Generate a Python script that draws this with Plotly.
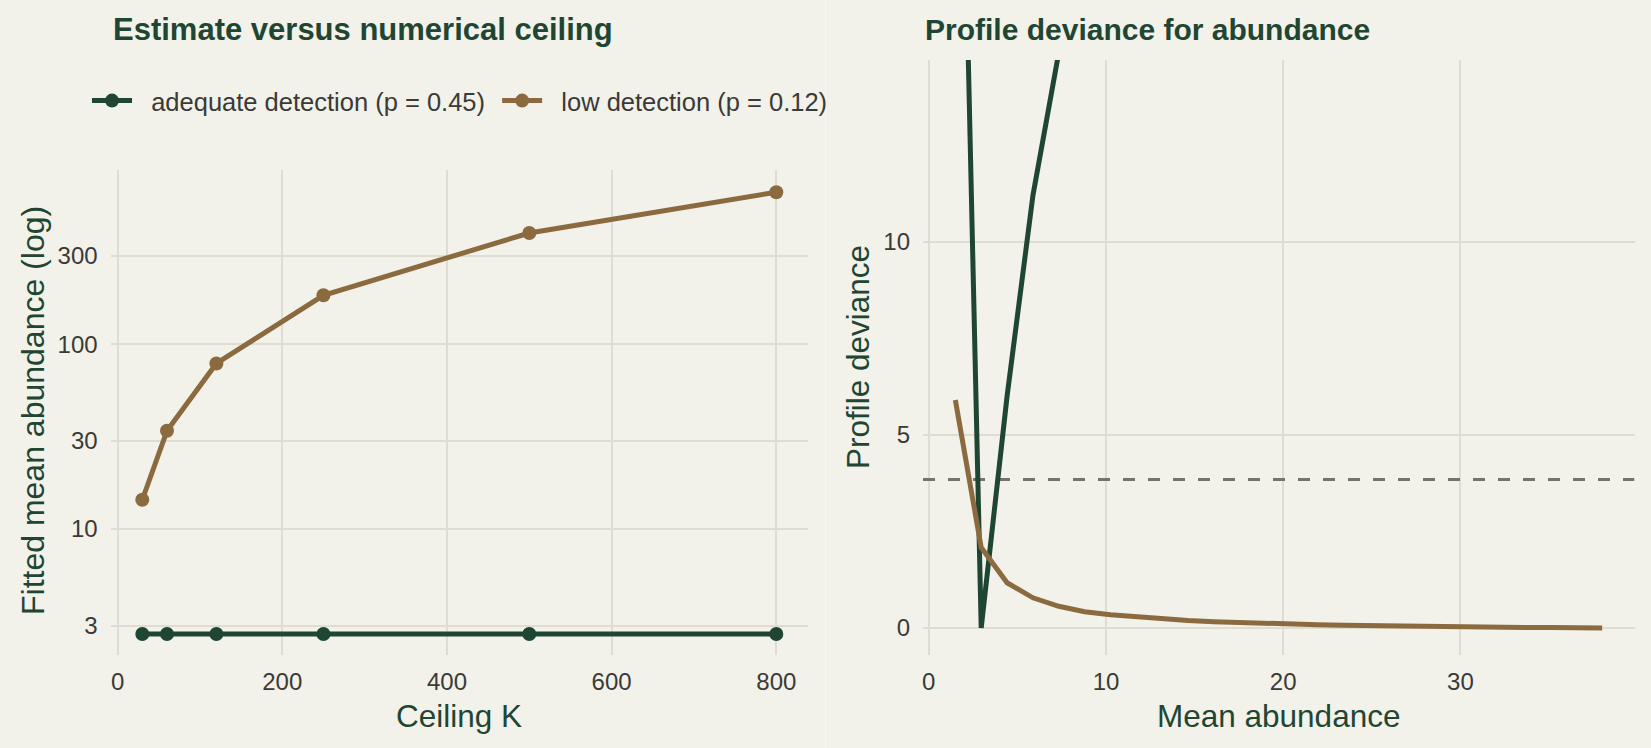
import plotly.graph_objects as go

W, H = 1651, 748

# ---------------- data ----------------
ceiling_K = [30, 60, 120, 250, 500, 800]
est_adequate = [2.70, 2.70, 2.70, 2.70, 2.70, 2.70]
est_low = [14.4, 34.0, 78.7, 184.0, 400.0, 665.0]

lam_grid = [1.50, 2.96, 4.42, 5.88, 7.34, 8.80, 10.26, 11.72, 13.18, 14.64,
            16.10, 17.56, 19.02, 20.48, 21.94, 23.40, 24.86, 26.32, 27.78,
            29.24, 30.70, 32.16, 33.62, 35.08, 36.54, 38.00]
dev_low = [5.90, 2.08, 1.17, 0.78, 0.56, 0.42, 0.34, 0.28, 0.23, 0.19,
           0.16, 0.135, 0.115, 0.100, 0.085, 0.072, 0.060, 0.050, 0.042,
           0.034, 0.027, 0.020, 0.014, 0.009, 0.004, 0.0]
lam_grid_adequate = [1.50, 2.96, 4.42, 5.88, 7.34]
dev_adequate = [29.5, 0.0, 6.0, 11.2, 14.9]
chisq_cut = 3.84

series_names = ["adequate detection (p = 0.45)", "low detection (p = 0.12)"]

GREEN = "#1F4632"
BROWN = "#8C6A3F"
BG = "#F2F1EA"
GRID = "#DFDCD0"
TICK = "#3A3A36"
FONT = "Liberation Sans, Arial, sans-serif"
NB = "\u00a0"

fig = go.Figure()

fig.add_trace(go.Scatter(x=ceiling_K, y=est_adequate, mode="lines+markers",
                         name=NB * 2 + series_names[0] + NB,
                         line=dict(color=GREEN, width=5),
                         marker=dict(color=GREEN, size=14),
                         xaxis="x", yaxis="y"))
fig.add_trace(go.Scatter(x=ceiling_K, y=est_low, mode="lines+markers",
                         name=NB * 2 + series_names[1],
                         line=dict(color=BROWN, width=5),
                         marker=dict(color=BROWN, size=14),
                         xaxis="x", yaxis="y"))

fig.add_trace(go.Scatter(x=[-0.325, 39.825], y=[chisq_cut, chisq_cut], mode="lines",
                         line=dict(color="#77736A", width=3, dash="12px,13px"),
                         showlegend=False, xaxis="x2", yaxis="y2", hoverinfo="skip"))
fig.add_trace(go.Scatter(x=lam_grid_adequate, y=dev_adequate, mode="lines",
                         line=dict(color=GREEN, width=5), showlegend=False,
                         xaxis="x2", yaxis="y2"))
fig.add_trace(go.Scatter(x=lam_grid, y=dev_low, mode="lines",
                         line=dict(color=BROWN, width=5), showlegend=False,
                         xaxis="x2", yaxis="y2"))

def px_x(p):
    return p / W

def px_y(p):
    return 1 - p / H

axis_common = dict(showgrid=True, gridcolor=GRID, gridwidth=1.6, zeroline=False,
                   showline=False, ticks="", tickfont=dict(size=24, color=TICK, family=FONT))

fig.update_layout(
    width=W, height=H, margin=dict(l=0, r=0, t=0, b=0),
    paper_bgcolor=BG, plot_bgcolor=BG,
    font=dict(family=FONT, color=TICK),
    showlegend=True,
    legend=dict(orientation="h", x=px_x(87), y=px_y(101), xanchor="left", yanchor="middle",
                font=dict(size=25.5, color=TICK, family=FONT), bgcolor="rgba(0,0,0,0)",
                itemwidth=40, traceorder="normal"),
    xaxis=dict(domain=[px_x(110.6), px_x(808)], range=[-8.5, 838.5],
               tickvals=[0, 200, 400, 600, 800], anchor="y", ticklabelstandoff=10,
               **axis_common),
    yaxis=dict(domain=[px_y(655), px_y(170)], type="log", range=[0.318, 2.943],
               tickvals=[3, 10, 30, 100, 300], ticktext=["3", "10", "30", "100", "300"],
               anchor="x", ticklabelstandoff=12, **axis_common),
    xaxis2=dict(domain=[px_x(923), px_x(1634.5)], range=[-0.325, 39.825],
                tickvals=[0, 10, 20, 30], anchor="y2", ticklabelstandoff=10, **axis_common),
    yaxis2=dict(domain=[px_y(655), px_y(60)], range=[-0.7, 14.7],
                tickvals=[0, 5, 10], anchor="x2", ticklabelstandoff=12, **axis_common),
)

ann = []
ann.append(dict(text="<b>Estimate versus numerical ceiling</b>", x=px_x(111), y=px_y(29),
                xref="paper", yref="paper", xanchor="left", yanchor="middle", showarrow=False,
                font=dict(size=31, color=GREEN, family=FONT)))
ann.append(dict(text="<b>Profile deviance for abundance</b>", x=px_x(923), y=px_y(29),
                xref="paper", yref="paper", xanchor="left", yanchor="middle", showarrow=False,
                font=dict(size=30, color=GREEN, family=FONT)))
ann.append(dict(text="Ceiling K", x=px_x((110.6 + 808) / 2), y=px_y(716),
                xref="paper", yref="paper", xanchor="center", yanchor="middle", showarrow=False,
                font=dict(size=31.5, color=GREEN, family=FONT)))
ann.append(dict(text="Mean abundance", x=px_x((923 + 1634.5) / 2), y=px_y(716),
                xref="paper", yref="paper", xanchor="center", yanchor="middle", showarrow=False,
                font=dict(size=31.5, color=GREEN, family=FONT)))
ann.append(dict(text="Fitted mean abundance (log)", x=px_x(33), y=px_y(411),
                xref="paper", yref="paper", xanchor="center", yanchor="middle", showarrow=False,
                textangle=-90, font=dict(size=32, color=GREEN, family=FONT)))
ann.append(dict(text="Profile deviance", x=px_x(858), y=px_y(357),
                xref="paper", yref="paper", xanchor="center", yanchor="middle", showarrow=False,
                textangle=-90, font=dict(size=31.5, color=GREEN, family=FONT)))
fig.update_layout(annotations=ann)

fig.add_shape(type="line", xref="paper", yref="paper", x0=px_x(825.5), x1=px_x(825.5),
              y0=0, y1=1, line=dict(color="#F8F7F3", width=1), layer="below")

fig.write_html("out.html")
